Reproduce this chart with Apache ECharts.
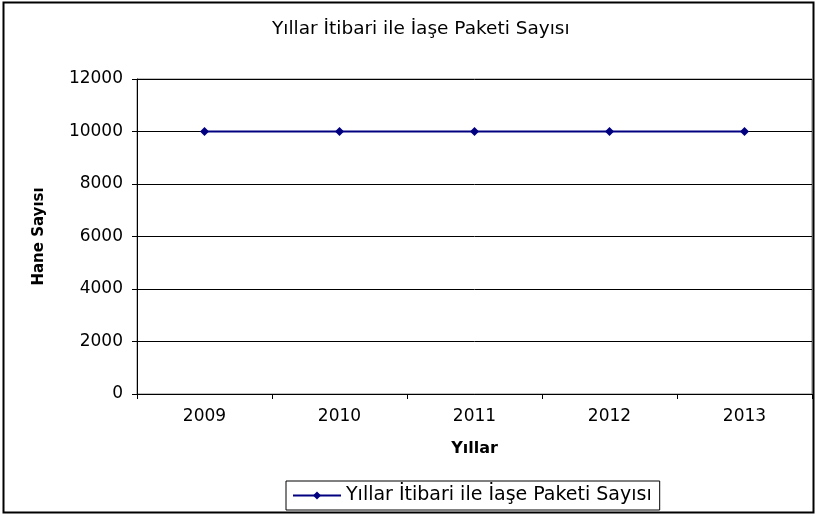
<!DOCTYPE html>
<html>
<head>
<meta charset="utf-8">
<script src="https://cdn.jsdelivr.net/npm/echarts@6/dist/echarts.min.js"></script>
<style>
html,body{margin:0;padding:0;background:#fff;}
#e1{width:818px;height:517px;}
</style>
</head>
<body>
<div id="e1"></div>
<script>
var years = ['2009', '2010', '2011', '2012', '2013'];
var paketSayisi = [10000, 10000, 10000, 10000, 10000];
var seriesName = 'Yıllar İtibari ile İaşe Paketi Sayısı';

var e1 = echarts.init(document.getElementById('e1'));
var font = '"DejaVu Sans", Arial, sans-serif';
var option1 = {
	animation: false,
	textStyle: { fontFamily: font },
	title: {
		text: 'Yıllar İtibari ile İaşe Paketi Sayısı',
		left: 267,
		top: 15,
		textStyle: { fontSize: 18.5, fontWeight: 'normal', color: '#000', fontFamily: font }
	},
	graphic: [{
		type: 'rect',
		shape: { x: 3.5, y: 2.5, width: 810, height: 510 },
		style: { fill: 'none', stroke: '#000', lineWidth: 2 },
		silent: true
	}],
	legend: {
		bottom: 7,
		left: 286,
		itemWidth: 48,
		itemHeight: 10,
		itemGap: 5,
		padding: [5, 8, 5, 6],
		borderColor: '#000',
		borderWidth: 1,
		textStyle: { fontSize: 19, color: '#000', fontFamily: font },
		data: [seriesName]
	},
	grid: {
		left: 137,
		right: 6,
		top: 79,
		bottom: 123,
		show: true,
		borderColor: '#808080',
		borderWidth: 1
	},
	xAxis: {
		type: 'category',
		data: years,
		boundaryGap: true,
		name: 'Yıllar',
		nameLocation: 'middle',
		nameGap: 47,
		nameTextStyle: { fontSize: 16, fontWeight: 'bold', color: '#000', fontFamily: font },
		axisLine: { lineStyle: { color: '#000', width: 1 } },
		axisTick: { show: true, length: 5, lineStyle: { color: '#000' } },
		axisLabel: { fontSize: 17, color: '#000', margin: 14, fontFamily: font }
	},
	yAxis: {
		type: 'value',
		min: 0,
		max: 12000,
		interval: 2000,
		name: 'Hane Sayısı',
		nameLocation: 'middle',
		nameGap: 90,
		nameTextStyle: { fontSize: 15, fontWeight: 'bold', color: '#000', fontFamily: font },
		axisLine: { show: true, lineStyle: { color: '#000', width: 1 } },
		axisTick: { show: true, length: 5, lineStyle: { color: '#000' } },
		axisLabel: { fontSize: 17, color: '#000', margin: 14, fontFamily: font,
			formatter: function(v) { return String(v); } },
		splitLine: { show: true, lineStyle: { color: '#000', width: 1 } }
	},
	series: [{
		name: seriesName,
		type: 'line',
		data: paketSayisi,
		symbol: 'diamond',
		symbolSize: 9,
		z: 10,
		itemStyle: { color: '#000080' },
		lineStyle: { color: '#000080', width: 2 }
	}]
};
e1.setOption(option1);
</script>
</body>
</html>
